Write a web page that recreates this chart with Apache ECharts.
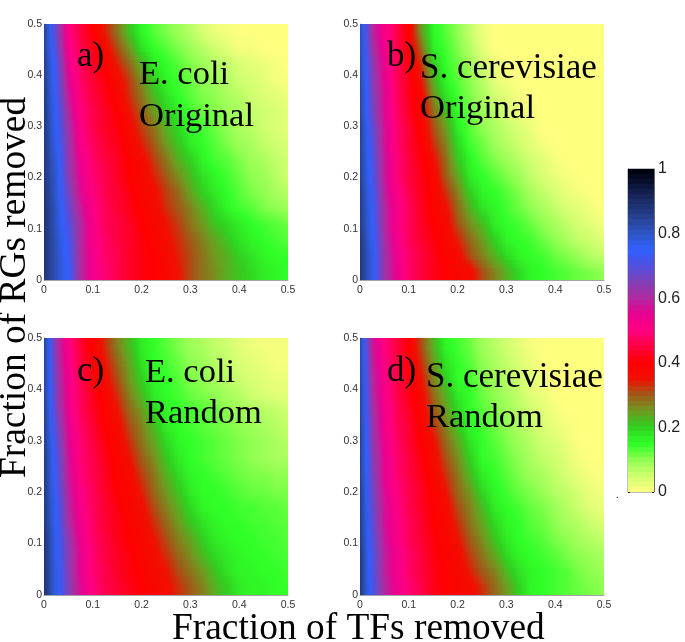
<!DOCTYPE html>
<html><head><meta charset="utf-8">
<style>html,body{margin:0;padding:0;background:#fff}#c{width:685px;height:642px}</style>
<script src="https://cdn.jsdelivr.net/npm/echarts@6/dist/echarts.min.js"></script>
</head><body><div id="c"></div>
<script>
// Fractions of TFs removed at which the values of each row were read
const xNodes = [0,.025,.05,.075,.1,.125,.15,.175,.2,.225,.25,.275,.3,.325,.35,.375,.4,.425,.45,.475,.5];
const rowCount = 16; // rows of RGs removed, top (0.5) to bottom (0)
const tickLabelsCbar = [0,0.2,0.4,0.6,0.8,1];
const colormapStops = ['#ffff80','#cfff70','#90ff50','#30ff28','#30d020','#6f9a20','#a05a18','#f01000','#ff0000','#ff0040','#ff0080','#e80090','#b02aa0','#8040b8','#5050e0','#3060ff','#2f55c8','#264090','#1a2c68','#0c1538','#000008'];
// values x100
const panelA = [
[85,67,51,45,40,34,28,21,16,13,11,9,7,4,2,1,0,0,0,0,0],
[85,69,52,46,42,37,31,25,18,15,13,11,9,7,5,3,1,1,0,0,0],
[86,71,54,47,43,39,34,29,23,17,15,13,11,9,7,6,4,3,2,1,0],
[86,72,56,48,44,41,37,32,26,20,16,14,12,10,9,7,5,4,3,1,1],
[87,73,58,49,45,42,38,33,28,22,18,15,13,11,10,8,7,5,4,3,2],
[87,74,60,50,46,43,40,35,30,25,20,17,14,12,11,9,8,6,5,4,3],
[87,75,62,51,46,43,41,37,32,28,23,19,16,14,12,10,8,7,5,4,3],
[87,76,63,52,47,44,42,38,34,30,25,21,17,15,13,11,9,8,6,5,4],
[87,78,63,54,48,45,43,39,37,32,28,23,20,16,14,13,11,9,8,6,5],
[87,79,64,55,49,46,43,40,38,34,30,26,22,18,16,14,12,10,9,7,5],
[88,79,66,56,50,46,44,41,38,36,32,29,24,20,17,15,13,11,10,8,7],
[88,80,68,58,51,47,44,42,39,37,33,30,27,23,19,16,14,13,11,10,9],
[88,80,70,60,52,47,45,43,40,38,35,32,28,25,21,19,17,15,14,13,12],
[88,81,72,60,52,48,45,43,41,39,36,33,30,27,24,21,18,16,15,14,13],
[88,81,73,60,53,48,46,43,41,40,37,34,31,28,25,23,20,18,16,15,15],
[88,81,74,60,53,49,46,43,41,40,38,35,31,28,26,23,21,19,17,16,15]];
const panelB = [
[82,60,52,46,39,25,16,13,10,6,2,0,0,0,0,0,0,0,0,0,0],
[82,62,53,46,40,29,17,14,11,7,3,0,0,0,0,0,0,0,0,0,0],
[83,64,54,47,41,33,20,15,12,9,5,2,0,0,0,0,0,0,0,0,0],
[83,65,55,47,42,35,23,16,13,10,7,3,1,0,0,0,0,0,0,0,0],
[84,66,56,48,42,38,26,18,14,11,8,5,3,1,0,0,0,0,0,0,0],
[84,67,56,48,43,38,29,22,15,12,9,7,4,2,1,0,0,0,0,0,0],
[85,69,57,49,44,39,31,25,17,13,10,8,6,4,2,0,0,0,0,0,0],
[85,70,57,49,44,40,33,27,19,14,12,9,7,5,3,1,0,0,0,0,0],
[85,71,58,50,45,41,36,29,21,16,13,11,9,7,5,3,1,0,0,0,0],
[85,72,58,50,45,42,38,30,24,17,15,13,11,9,6,4,2,1,0,0,0],
[86,73,59,51,46,42,39,33,27,20,16,15,13,11,8,6,4,2,1,0,0],
[86,74,60,52,47,43,39,36,29,23,18,16,14,12,10,8,6,4,3,1,0],
[86,75,60,52,47,43,40,37,31,26,22,17,15,14,12,10,8,6,4,3,1],
[87,76,61,53,47,44,41,38,34,29,25,20,16,15,14,12,10,8,6,5,3],
[87,77,62,54,48,45,42,39,37,31,27,23,19,16,15,14,12,11,9,7,6],
[87,77,62,55,48,45,42,40,38,37,31,27,23,19,16,15,14,13,12,11,10]];
const panelC = [
[85,62,51,44,39,33,27,22,17,15,13,11,9,8,6,5,3,2,1,1,1],
[85,63,52,45,40,35,29,24,18,15,14,12,10,9,7,6,4,3,2,1,1],
[85,64,53,46,41,36,31,25,20,16,15,13,11,10,8,7,5,4,3,2,2],
[85,65,53,47,42,38,33,27,22,17,15,14,12,11,10,8,7,5,4,3,3],
[86,66,54,47,43,39,35,29,25,19,16,15,14,13,12,10,9,8,7,6,5],
[86,68,55,48,44,40,37,31,27,22,17,15,14,13,12,11,10,9,8,7,6],
[86,70,56,49,45,41,38,33,28,24,19,16,15,14,13,12,11,10,9,8,7],
[87,71,57,49,46,42,39,35,30,26,21,17,15,14,13,12,11,10,9,8,8],
[87,72,58,50,46,43,39,37,32,28,23,19,16,15,14,13,12,11,11,10,10],
[87,73,59,51,47,43,40,38,34,29,25,21,17,15,15,14,13,12,12,11,11],
[87,74,60,52,47,44,41,38,36,31,27,23,19,16,15,15,14,14,13,13,12],
[87,75,61,53,48,44,42,39,37,33,29,25,21,18,16,15,15,14,14,13,13],
[88,76,63,54,48,45,42,40,38,35,31,27,24,20,17,16,15,15,14,14,13],
[88,76,64,55,49,45,43,41,38,36,33,29,26,22,19,17,16,15,15,14,14],
[88,77,64,55,49,46,43,41,39,37,35,31,28,25,21,18,16,16,15,15,14],
[88,77,65,56,50,46,44,42,40,38,36,33,30,27,23,20,17,16,16,15,15]];
const panelD = [
[83,58,50,45,40,31,23,16,14,12,9,7,5,3,1,0,0,0,0,0,0],
[83,59,51,45,41,33,25,18,15,13,10,8,6,4,2,0,0,0,0,0,0],
[84,60,52,46,41,35,27,20,15,14,11,9,7,5,3,1,0,0,0,0,0],
[84,61,52,46,42,37,29,23,17,15,12,10,8,6,3,2,0,0,0,0,0],
[84,62,53,47,43,38,31,25,19,15,13,11,9,7,5,3,1,0,0,0,0],
[85,63,53,47,44,39,33,27,21,16,14,12,10,8,6,4,2,1,0,0,0],
[85,64,54,48,44,40,36,29,24,18,15,13,11,9,7,5,4,2,0,0,0],
[85,65,55,49,45,41,37,31,26,20,15,14,12,10,8,6,5,3,1,0,0],
[85,66,55,49,45,42,38,33,28,22,17,15,13,11,9,8,6,4,2,1,0],
[86,67,56,50,46,43,39,35,29,25,19,16,14,12,11,9,7,6,4,2,1],
[86,68,57,51,46,43,40,37,31,27,22,17,15,14,12,11,9,7,5,3,2],
[86,69,57,51,47,44,40,38,33,28,24,19,16,15,13,12,10,8,7,5,4],
[86,70,58,52,47,44,41,38,35,30,26,21,17,15,14,13,11,10,8,7,6],
[87,71,59,53,48,45,41,39,37,32,28,24,19,16,15,14,13,11,10,9,8],
[87,71,59,53,48,45,42,39,38,34,30,27,22,18,16,15,14,13,11,10,9],
[87,72,60,54,49,46,42,40,38,37,33,29,25,20,16,15,14,13,12,11,10]];
const panels = [panelA,panelB,panelC,panelD];

const hex = h => [1,3,5].map(i=>parseInt(h.substr(i,2),16));
const rgbStops = colormapStops.map(hex);
function cmap(v){ // v in 0..1
  const t=Math.min(Math.max(v,0),1)*(rgbStops.length-1), i=Math.min(Math.floor(t),rgbStops.length-2), f=t-i;
  const a=rgbStops[i], b=rgbStops[i+1];
  return 'rgb('+a.map((c,k)=>Math.round(c+(b[k]-c)*f)).join(',')+')';
}
function rowGradient(vals){
  const stops=[], n=vals.length-1, sub=4;
  for(let i=0;i<n;i++) for(let s=0;s<(i===n-1?sub+1:sub);s++){
    stops.push({offset:(i+s/sub)/n, color:cmap((vals[i]+(vals[i+1]-vals[i])*s/sub)/100)});
  }
  return new echarts.graphic.LinearGradient(0,0,1,0,stops);
}
const slices=6;
const gridsPx=[[44,24],[360,24],[44,338],[360,338]];
const grid=[],xAxis=[],yAxis=[],series=[];
const tickColor='#333';
gridsPx.forEach((g,i)=>{
  grid.push({left:g[0],top:g[1],width:244,height:i<2?256:257});
  const axisBase={type:'value',min:0,max:.5,interval:.1,gridIndex:i,splitLine:{show:false},axisTick:{show:false},
    axisLine:{show:true,lineStyle:{color:'#666',width:.6}},
    axisLabel:{fontFamily:'Liberation Sans',fontSize:10.5,color:tickColor,margin:4,formatter:v=>v===0?'0':String(+v.toFixed(1))}};
  xAxis.push(Object.assign({},axisBase,{axisLabel:Object.assign({},axisBase.axisLabel,{margin:5})}));
  yAxis.push(Object.assign({},axisBase,{axisLabel:Object.assign({},axisBase.axisLabel,{margin:2})}));
  const rows=panels[i];
  series.push({type:'custom',xAxisIndex:i,yAxisIndex:i,silent:true,
    data:rows.map((r,k)=>[0,.5-k*.5/rowCount]),
    encode:{x:0,y:1},
    renderItem(params,api){
      // shades each read row towards its neighbours, like MATLAB's interpolated shading
      const k=params.dataIndex, h=.5/rowCount, children=[];
      for(let s=0;s<slices;s++){
        const top=.5-(k+s/slices)*h, bot=.5-(k+(s+1)/slices)*h;
        const p0=api.coord([0,top]), p1=api.coord([.5,bot]);
        const y0=Math.round(p0[1]), y1=Math.round(p1[1]);
        if(y1<=y0) continue;
        const t=(s+.5)/slices-.5, nb=rows[t<0?Math.max(k-1,0):Math.min(k+1,rows.length-1)], w=Math.abs(t);
        const vals=rows[k].map((v,j)=>v+(nb[j]-v)*w);
        children.push({type:'rect',shape:{x:p0[0],y:y0,width:p1[0]-p0[0],height:y1-y0},style:{fill:rowGradient(vals)}});
      }
      return {type:'group',children};
    }});
});
// colour bar
const cbLevels=[]; for(let i=0;i<64;i++) cbLevels.push((i+.5)/64);
grid.push({left:628,top:169,width:26,height:323,show:true,borderColor:'#666',borderWidth:.8,backgroundColor:'transparent'});
xAxis.push({type:'value',min:0,max:1,gridIndex:4,show:false});
const cbAxis={type:'value',min:0,max:1,interval:.2,gridIndex:4,splitLine:{show:false},
  axisLine:{show:true,onZero:false,lineStyle:{color:'#555',width:.8}},
  axisTick:{show:true,inside:true,length:2,lineStyle:{color:'#222',width:1}}};
yAxis.push(Object.assign({},cbAxis,{position:'right',
  axisLabel:{fontFamily:'Liberation Sans',fontSize:16,color:'#222',margin:4,formatter:v=>tickLabelsCbar.includes(+v.toFixed(1))?String(+v.toFixed(1)):''}}));
yAxis.push(Object.assign({},cbAxis,{position:'left',axisLabel:{show:false}}));
series.push({type:'custom',xAxisIndex:4,yAxisIndex:4,silent:true,data:cbLevels.map(v=>[0,v]),encode:{x:0,y:1},
  renderItem(params,api){
    const v=cbLevels[params.dataIndex];
    const a=api.coord([0,v-.5/64]), b=api.coord([1,v+.5/64]);
    const y0=Math.round(b[1]), y1=Math.round(a[1]);
    return {type:'rect',shape:{x:a[0],y:y0,width:b[0]-a[0],height:y1-y0},style:{fill:cmap(v)}};
  }});
// texts; x,y give the left end of the baseline
const serif='"Liberation Serif"', asc=.78;
const T=(text,x,y,size)=>({type:'text',z:100,x,y:y-asc*size,style:{text,font:size+'px '+serif,fill:'#000'}});
const graphic=[
 T('a)',77,67,35),T('E. coli',139,84,34.5),T('Original',139,126,34.5),
 T('b)',387,67,35),T('S. cerevisiae',420,79,35),T('Original',420,118,34.5),
 T('c)',77,382,35),T('E. coli',145,382,34.5),T('Random',145,423,34.5),
 T('d)',387,382,35),T('S. cerevisiae',426,388,35),T('Random',426,427,34.5),
 T('Fraction of TFs removed',172,640,37.4),
 {type:'text',z:100,x:26-asc*37.4,y:478,rotation:Math.PI/2,style:{text:'Fraction of RGs removed',font:'37.4px '+serif,fill:'#000'}},
 T('.',616,498,10)
];
const chart=echarts.init(document.getElementById('c'));
chart.setOption({animation:false,backgroundColor:'#fff',grid,xAxis,yAxis,series,graphic});
</script></body></html>
